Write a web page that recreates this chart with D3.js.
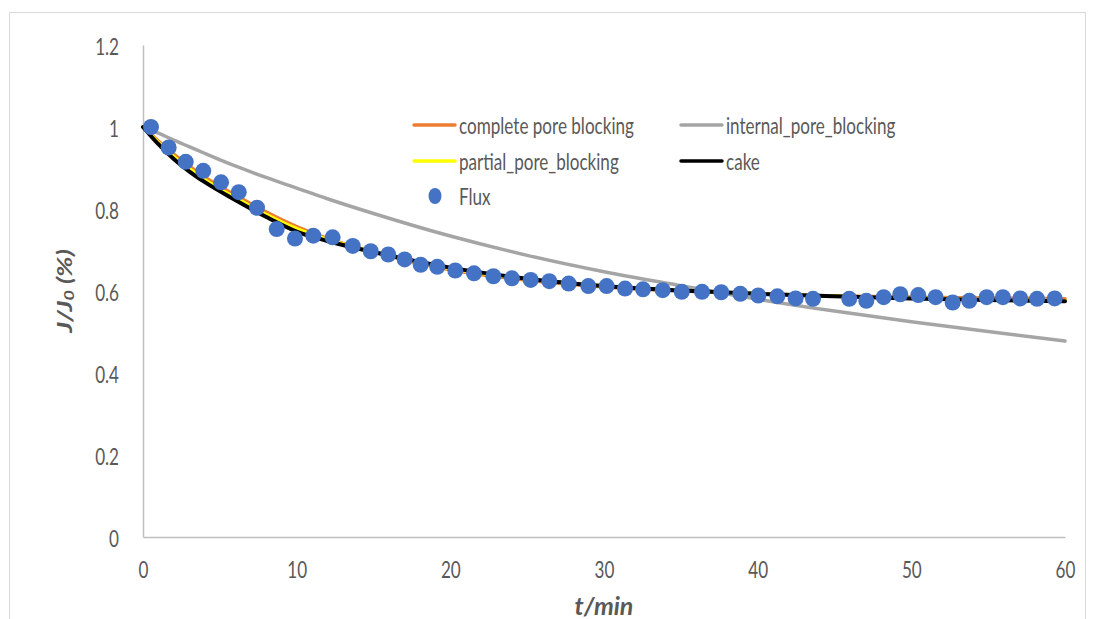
<!DOCTYPE html>
<html><head><meta charset="utf-8">
<script src="https://cdn.jsdelivr.net/npm/d3@7"></script>
<style>body{margin:0;background:#fff}svg{display:block}</style>
</head><body>
<svg id="c" width="1096" height="619"></svg>
<script>
// ---- data ----
const fluxTime = [0.52,1.67,2.78,3.92,5.08,6.23,7.42,8.70,9.89,11.08,12.34,13.65,14.82,15.96,17.03,18.07,19.15,20.32,21.54,22.80,24.01,25.23,26.44,27.70,28.98,30.17,31.37,32.54,33.82,35.06,36.38,37.63,38.87,40.04,41.28,42.47,43.60,45.96,47.07,48.20,49.28,50.45,51.58,52.69,53.77,54.90,55.96,57.09,58.18,59.33];
const fluxValue = [1.000,0.950,0.915,0.893,0.865,0.841,0.803,0.751,0.728,0.735,0.731,0.710,0.697,0.689,0.677,0.664,0.659,0.650,0.643,0.636,0.631,0.627,0.624,0.618,0.612,0.612,0.606,0.604,0.602,0.598,0.598,0.597,0.593,0.589,0.587,0.582,0.581,0.581,0.576,0.585,0.592,0.590,0.585,0.572,0.576,0.585,0.585,0.582,0.581,0.582];
const modelTime = [0,1,2,3,4,6,8,10,12,15,20,25,30,35,40,45,50,55,60];
const completePoreBlocking = [1,0.966,0.934,0.905,0.878,0.834,0.793,0.757,0.728,0.695,0.652,0.626,0.610,0.600,0.593,0.588,0.585,0.583,0.581];
const internalPoreBlocking = [1,0.985,0.968,0.952,0.936,0.905,0.877,0.851,0.825,0.789,0.734,0.687,0.647,0.613,0.580,0.551,0.525,0.501,0.478];
const partialPoreBlocking = [1,0.962,0.928,0.899,0.872,0.828,0.787,0.752,0.726,0.696,0.655,0.629,0.612,0.601,0.593,0.587,0.583,0.579,0.576];
const cake = [1,0.958,0.922,0.892,0.866,0.822,0.781,0.745,0.722,0.695,0.657,0.630,0.612,0.601,0.593,0.587,0.582,0.578,0.575];
const xTicks = [0,10,20,30,40,50,60];
const yTicks = [0,0.2,0.4,0.6,0.8,1,1.2];
const legendNames = ["complete pore blocking","internal_pore_blocking","partial_pore_blocking","cake","Flux"];

// ---- drawing ----
const svg = d3.select("#c");
const FONT = "Lato, 'Open Sans', sans-serif";
const FS = 23;
const TXT = "#595959";
const x = d3.scaleLinear().domain([0,60]).range([143,1065]);
const y = d3.scaleLinear().domain([0,1.2]).range([537,45]);

// outer border
svg.append("rect").attr("x",9.5).attr("y",12.5).attr("width",1076).attr("height",640)
  .attr("fill","none").attr("stroke","#d9d9d9").attr("stroke-width",1);

// horizontal compression factor for text (reference text is horizontally squeezed)
const probe = svg.append("text").attr("font-family",FONT).attr("font-size",FS).text(legendNames[0]);
const sx = 175 / probe.node().getComputedTextLength();
probe.remove();

// axes
const yAxis = d3.axisLeft(y).tickValues(yTicks).tickSize(0).tickPadding(0).tickFormat(d=>d3.format("~g")(d));
const gy = svg.append("g").attr("transform","translate(143,0)").call(yAxis);
const xAxis = d3.axisBottom(x).tickValues(xTicks).tickSize(0).tickPadding(0).tickFormat(d3.format("d"));
const gx = svg.append("g").attr("transform","translate(0,537)").call(xAxis);
[gx,gy].forEach(g=>{ g.select(".domain").attr("stroke","#bfbfbf").attr("stroke-width",1.5); });
gy.selectAll(".tick text").each(function(){
  d3.select(this).attr("x",null).attr("dy",null).attr("text-anchor","end").attr("dominant-baseline","central")
   .attr("transform",`translate(-24,0) scale(${sx},1)`).attr("font-family",FONT).attr("font-size",FS).attr("fill",TXT);
});
gx.selectAll(".tick text").each(function(){
  d3.select(this).attr("y",null).attr("dy",null).attr("text-anchor","middle").attr("dominant-baseline","central")
   .attr("transform",`translate(0,32) scale(${sx},1)`).attr("font-family",FONT).attr("font-size",FS).attr("fill",TXT);
});

// axis titles
svg.append("text").attr("transform","translate(604,605)")
  .attr("text-anchor","middle").attr("dominant-baseline","central")
  .attr("font-family",FONT).attr("font-size",25).attr("font-weight","bold").attr("font-style","italic").attr("fill",TXT)
  .text("t/min");
const yt = svg.append("text").attr("transform",`translate(64,291) scale(${sx},1) rotate(-90)`)
  .attr("text-anchor","middle").attr("dominant-baseline","central")
  .attr("font-family",FONT).attr("font-size",27).attr("font-weight","bold").attr("font-style","italic").attr("fill",TXT);
yt.append("tspan").text("J/J");
yt.append("tspan").attr("font-size",18).attr("dy",6).text("0");
yt.append("tspan").attr("dy",-6).text(" (%)");

// model lines
const line = d3.line().x(d=>x(d[0])).y(d=>y(d[1])).curve(d3.curveMonotoneX);
const series = [
  {name:legendNames[0], vals:completePoreBlocking, color:"#ED7D31", w:3.5},
  {name:legendNames[1], vals:internalPoreBlocking, color:"#A5A5A5", w:3.5},
  {name:legendNames[2], vals:partialPoreBlocking, color:"#FFFF00", w:3.5},
  {name:legendNames[3], vals:cake, color:"#000000", w:4}
];
series.forEach(s=>{
  svg.append("path").datum(modelTime.map((t,i)=>[t,s.vals[i]]))
    .attr("d",line).attr("fill","none").attr("stroke",s.color).attr("stroke-width",s.w)
    .attr("stroke-linejoin","round").attr("stroke-linecap","round");
});

// flux points
svg.append("g").selectAll("circle").data(fluxTime.map((t,i)=>[t,fluxValue[i]])).join("circle")
  .attr("cx",d=>x(d[0])).attr("cy",d=>y(d[1])).attr("r",8).attr("fill","#4472C4");

// legend
const leg = [
  {s:series[0], lx:414, tx:459, ly:125},
  {s:series[1], lx:681, tx:726, ly:125},
  {s:series[2], lx:414, tx:459, ly:161},
  {s:series[3], lx:681, tx:726, ly:161}
];
leg.forEach(l=>{
  svg.append("line").attr("x1",l.lx).attr("x2",l.lx+41).attr("y1",l.ly).attr("y2",l.ly)
    .attr("stroke",l.s.color).attr("stroke-width",3.5).attr("stroke-linecap","round");
  svg.append("text").attr("transform",`translate(${l.tx},${l.ly}) scale(${sx},1)`)
    .attr("dominant-baseline","central").attr("font-family",FONT).attr("font-size",FS).attr("fill",TXT).text(l.s.name);
});
svg.append("ellipse").attr("cx",435).attr("cy",196).attr("rx",6.5).attr("ry",8).attr("fill","#4472C4");
svg.append("text").attr("transform",`translate(459,196) scale(${sx},1)`)
  .attr("dominant-baseline","central").attr("font-family",FONT).attr("font-size",FS).attr("fill",TXT).text(legendNames[4]);
</script>
</body></html>
